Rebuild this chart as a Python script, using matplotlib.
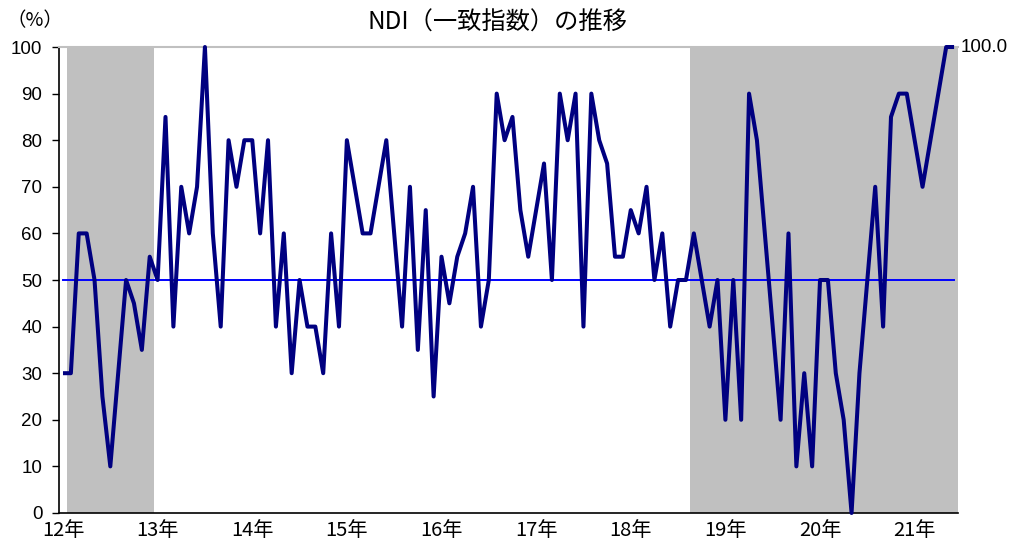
import numpy as np
import matplotlib
matplotlib.use('Agg')
import matplotlib.pyplot as plt

plt.rcParams['font.family'] = ['Noto Sans CJK JP', 'DejaVu Sans']

# monthly NDI, 2012-01 .. 2021-06
ndi_2012 = [30, 30, 60, 60, 50, 25, 10, 30, 50, 45, 35, 55]
ndi_2013 = [50, 85, 40, 70, 60, 70, 100, 60, 40, 80, 70, 80]
ndi_2014 = [80, 60, 80, 40, 60, 30, 50, 40, 40, 30, 60, 40]
ndi_2015 = [80, 70, 60, 60, 70, 80, 60, 40, 70, 35, 65, 25]
ndi_2016 = [55, 45, 55, 60, 70, 40, 50, 90, 80, 85, 65, 55]
ndi_2017 = [65, 75, 50, 90, 80, 90, 40, 90, 80, 75, 55, 55]
ndi_2018 = [65, 60, 70, 50, 60, 40, 50, 50, 60, 50, 40, 50]
ndi_2019 = [20, 50, 20, 90, 80, 60, 40, 20, 60, 10, 30, 10]
ndi_2020 = [50, 50, 30, 20, 0, 30, 50, 70, 40, 85, 90, 90]
ndi_2021 = [80, 70, 80, 90, 100, 100]

ndi = (ndi_2012 + ndi_2013 + ndi_2014 + ndi_2015 + ndi_2016 + ndi_2017
       + ndi_2018 + ndi_2019 + ndi_2020 + ndi_2021)
months = [f'{y}-{m:02d}' for y in range(2012, 2022) for m in range(1, 13)][:len(ndi)]
baseline = [50] * len(ndi)

year_labels = ['12年', '13年', '14年', '15年', '16年', '17年', '18年', '19年', '20年', '21年']
# shaded (recession) periods, first and last month
shade_periods = [('2012-02', '2012-12'), ('2018-09', '2021-06')]

x = np.arange(len(ndi))

fig = plt.figure(figsize=(10.11, 5.48), dpi=100)
ax = fig.add_axes([0.0584, 0.0639, 0.9476 - 0.0584, 0.9142 - 0.0639])

for start, end in shade_periods:
    ax.axvspan(months.index(start) - 0.5, months.index(end) + 0.5,
               color='#c0c0c0', lw=0, zorder=0)

ax.plot(x, baseline, color='#0000ff', lw=1.4, zorder=2)
ax.plot(x, ndi, color='#000080', lw=2.9, zorder=3, clip_on=False,
        solid_joinstyle='round', solid_capstyle='butt')

ax.annotate(f'{ndi[-1]:.1f}', xy=(x[-1], ndi[-1]), xytext=(5, 0),
            textcoords='offset points', va='center', ha='left',
            fontsize=13.5, family='Liberation Sans', annotation_clip=False)

ax.set_xlim(-0.5, len(ndi) - 0.5)
ax.set_ylim(0, 100)
ax.set_yticks(range(0, 101, 10))
ax.set_xticks(x[::12])
ax.set_xticklabels(year_labels, fontsize=14.5)
for lab in ax.get_yticklabels():
    lab.set_family('Liberation Sans')
    lab.set_fontsize(13.5)
ax.tick_params(axis='y', direction='out', length=5, width=1, pad=7)
ax.tick_params(axis='x', length=0, pad=5)

ax.spines['right'].set_visible(False)
ax.spines['top'].set_color('#c0c0c0')
ax.spines['top'].set_linewidth(1.5)
ax.spines['left'].set_linewidth(1.2)
ax.spines['bottom'].set_linewidth(1.2)

fig.text(0.492, 0.958, 'NDI（一致指数）の推移', ha='center', va='center', fontsize=17.5)
fig.text(0.006, 0.962, '（%）', ha='left', va='center', fontsize=14)

fig.savefig('out.png', dpi=100)
